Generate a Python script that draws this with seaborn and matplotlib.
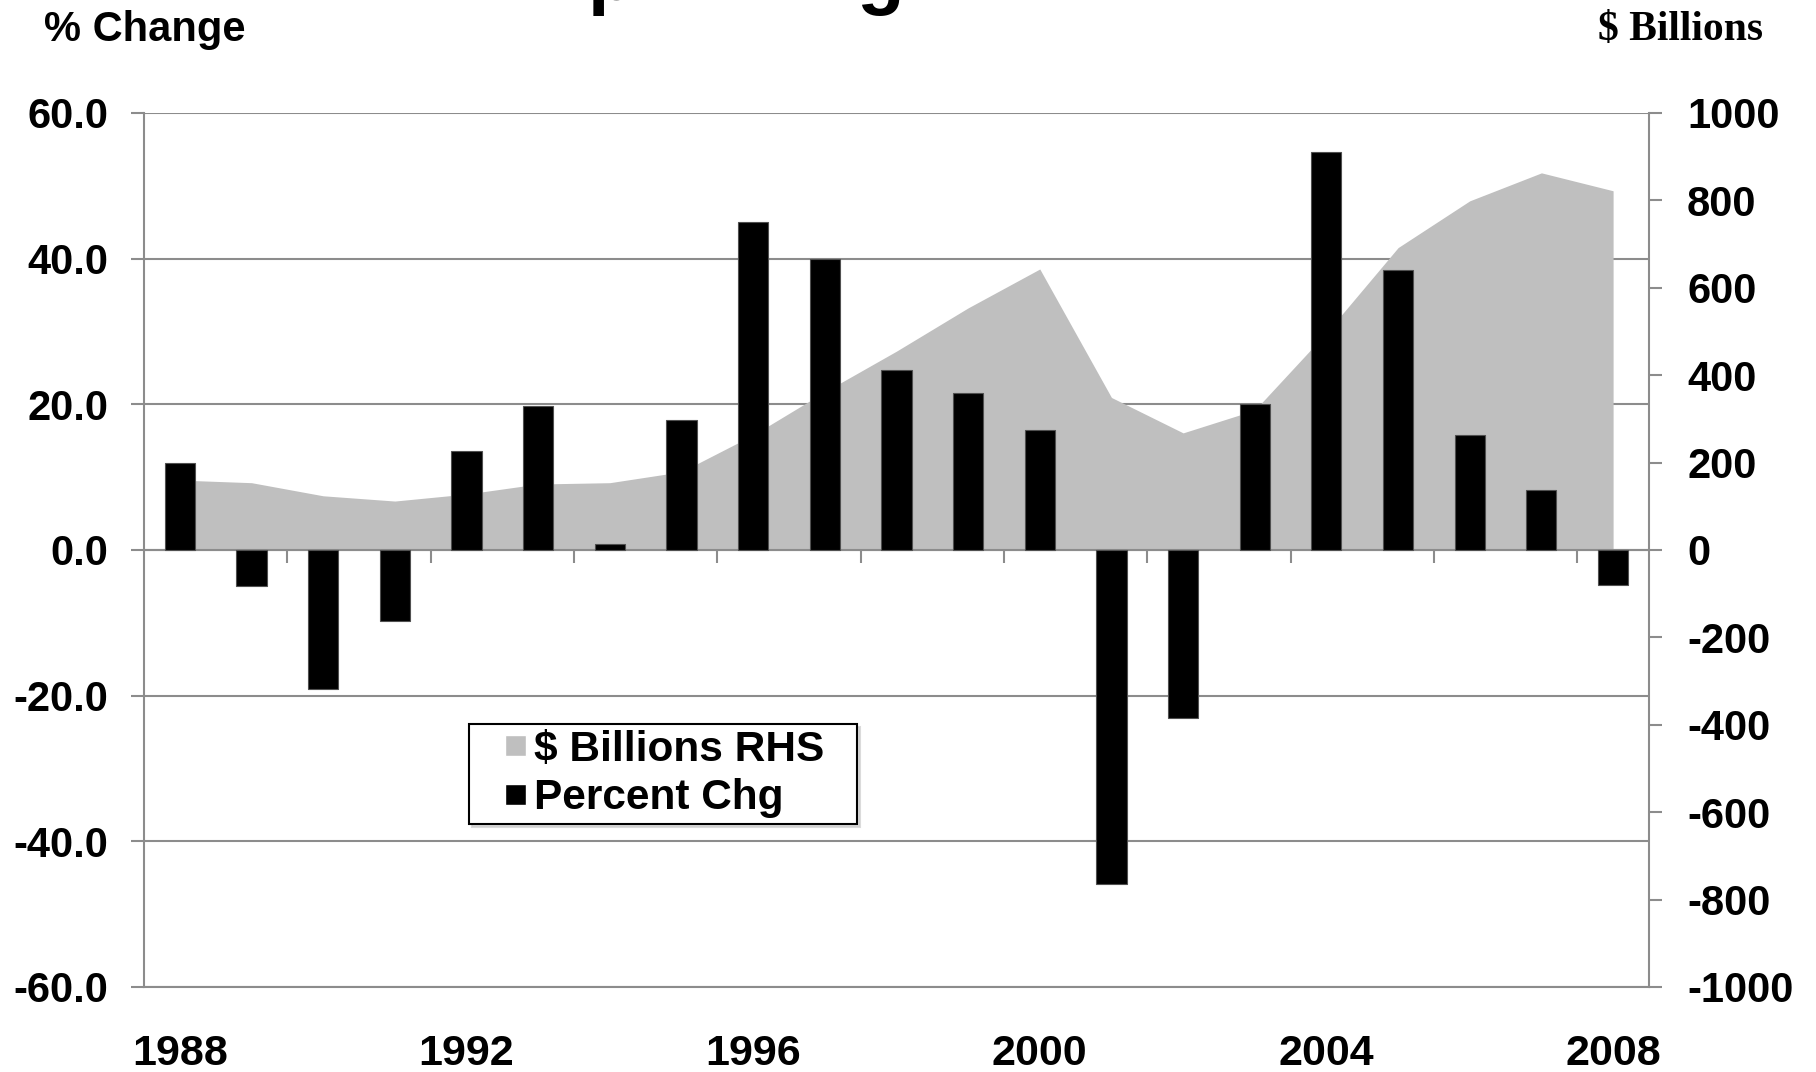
import numpy as np
import matplotlib
matplotlib.use('Agg')
from matplotlib import pyplot as plt
from matplotlib.patches import Patch, Rectangle
from matplotlib.legend_handler import HandlerPatch
import seaborn as sns

# values
years = [str(y) for y in range(1988, 2009)]
pct_change = [12.0, -5.0, -19.1, -9.8, 13.6, 19.8, 0.8, 17.8, 45.1, 40.0,
              24.7, 21.6, 16.5, -45.9, -23.0, 20.1, 54.7, 38.4, 15.8, 8.3, -4.8]
billions = [160, 154, 124, 112, 128, 151, 154, 179, 263, 362,
            455, 554, 643, 349, 268, 320, 497, 692, 799, 863, 822]
year_labels = ['1988', '1992', '1996', '2000', '2004', '2008']
left_ticks = [60, 40, 20, 0, -20, -40, -60]
right_ticks = [1000, 800, 600, 400, 200, 0, -200, -400, -600, -800, -1000]

GREY = '#8c8c8c'
AREA = '#bfbfbf'

sns.set_style('white')
plt.rcParams['font.family'] = ['Liberation Sans', 'DejaVu Sans']
plt.rcParams['font.weight'] = 'bold'
plt.rcParams['font.size'] = 30
plt.rcParams['text.color'] = 'black'
plt.rcParams['xtick.color'] = 'black'
plt.rcParams['ytick.color'] = 'black'


def square_handle(legend, orig_handle, xdescent, ydescent, width, height, fontsize):
    # small square pushed to the right end of the handle box
    s = 0.5 * fontsize
    return Rectangle((-xdescent + width - s, -ydescent + (height - s) / 2), s, s)


fig = plt.figure(figsize=(18.16, 10.72), dpi=100)
ax = fig.add_axes([0.0793, 0.0793, 0.8287, 0.8153])
axr = ax.twinx()
axb = ax.twinx()

# bars on the top layer, left scale
sns.barplot(x=years, y=pct_change, color='black', saturation=1,
            width=0.42, edgecolor='#505050', linewidth=0.8, ax=axb)
axb.set_ylim(-60, 60)
axb.set_xlabel('')
axb.set_ylabel('')
axb.set_yticks([])
for s in axb.spines.values():
    s.set_visible(False)

# area series on the middle layer, right scale
xpos = np.arange(len(years))
axr.fill_between(xpos, billions, color=AREA, lw=0)
axr.set_ylim(-1000, 1000)
axr.set_yticks(right_ticks, labels=[str(v) for v in right_ticks])
axr.tick_params(axis='y', length=9.5, width=1.5, color=GREY,
                labelcolor='black', pad=18)
for s in axr.spines.values():
    s.set_visible(False)

# base layer: grid, frame, left ticks, year labels
ax.set_ylim(-60, 60)
ax.set_yticks(left_ticks, labels=['{:.1f}'.format(v) for v in left_ticks])
ax.tick_params(axis='y', length=9.5, width=1.5, color=GREY,
               labelcolor='black', pad=16)
ax.yaxis.grid(True, color=GREY, lw=1.5)
ax.set_xlim(-0.5, len(years) - 0.5)
ax.set_xticks([years.index(y) for y in year_labels], labels=year_labels)
ax.tick_params(axis='x', length=0, pad=34, labelsize=31, labelcolor='black')
for s in ax.spines.values():
    s.set_color(GREY)
    s.set_linewidth(1.5)
ax.spines['top'].set_visible(False)

# zero line with tick marks between every second year
zero = axb.secondary_xaxis(0.5)
bounds = np.arange(1.5, len(years) - 1, 2)
zero.set_xticks(bounds, labels=[''] * len(bounds))
zero.tick_params(direction='in', length=9.5, width=1.5, color=GREY)
for s in zero.spines.values():
    s.set_color(GREY)
    s.set_linewidth(1.5)

leg = axb.legend(
    handles=[Patch(facecolor=AREA, label='\\$ Billions RHS'),
             Patch(facecolor='black', label='Percent Chg')],
    handler_map={Patch: HandlerPatch(patch_func=square_handle)},
    loc='upper left',
    bbox_to_anchor=(0.216, 0.2, 0.258, 0.101),
    mode='expand',
    borderaxespad=0,
    borderpad=0.14,
    labelspacing=0.2,
    handlelength=1.2,
    handleheight=0.5,
    handletextpad=0.2,
    fancybox=False,
    shadow={'color': '0.8', 'alpha': 0.7},
    framealpha=1,
    prop={'size': 30.5, 'weight': 'bold'})
leg.get_frame().set_edgecolor('black')
leg.get_frame().set_linewidth(1.5)

# headers
fig.text(44 / 1816, 1 - 30 / 1072, '% Change', ha='left', va='center',
         fontsize=30, fontweight='bold')
fig.text(1763 / 1816, 1 - 30 / 1072, '\\$ Billions', ha='right', va='center',
         fontsize=30, fontweight='bold', family=['Liberation Serif'])
# the cut-off title, only its descenders show above the frame edge
fig.text(588 / 1816, 1.0, 'p', ha='left', va='baseline',
         fontsize=56, fontweight='bold')
fig.text(857 / 1816, 1.0, 'g', ha='left', va='baseline',
         fontsize=56, fontweight='bold')

fig.savefig('out.png', dpi=100)
plt.close(fig)
